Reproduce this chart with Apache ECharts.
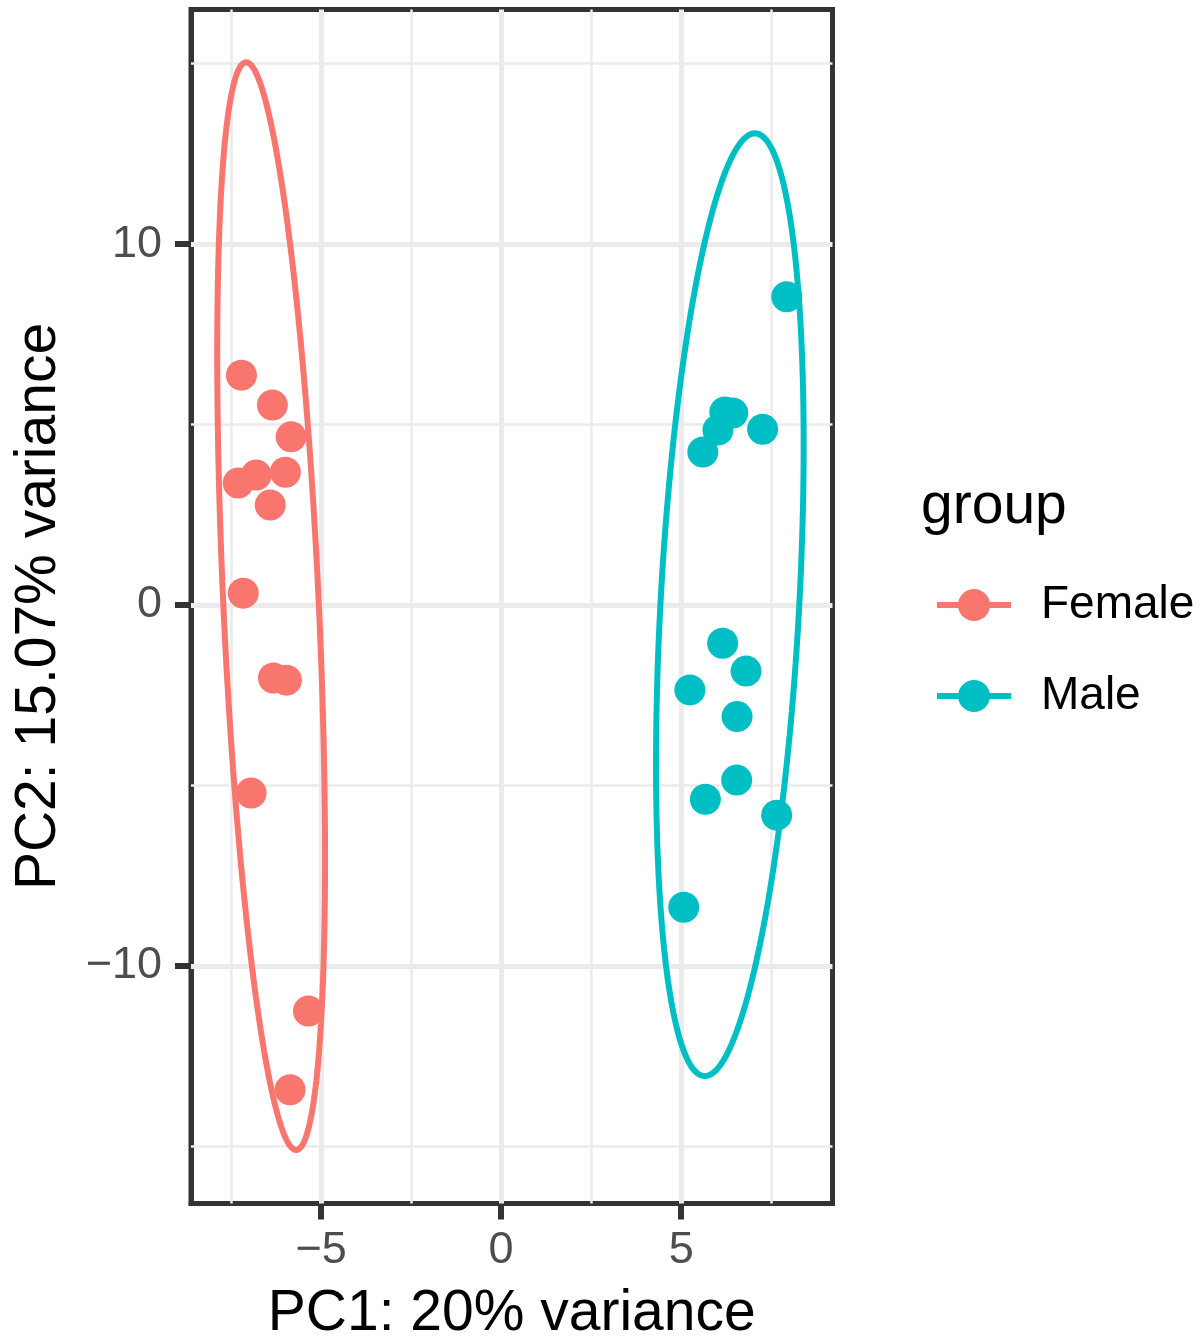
<!DOCTYPE html>
<html>
<head>
<meta charset="utf-8">
<script src="https://cdn.jsdelivr.net/npm/echarts@6/dist/echarts.min.js"></script>
<style>
  html, body { margin: 0; padding: 0; background: #fff; }
  #chart { width: 1204px; height: 1338px; }
</style>
</head>
<body>
<div id="chart"></div>
<script>
// PCA scores per group [PC1, PC2]
var femalePoints = [
  [-7.21, 6.37], [-6.35, 5.54], [-5.83, 4.66], [-7.30, 3.38], [-6.80, 3.60],
  [-5.99, 3.68], [-6.41, 2.77], [-7.16, 0.33], [-6.32, -2.02], [-5.96, -2.08],
  [-6.94, -5.21], [-5.35, -11.25], [-5.86, -13.43]
];
var malePoints = [
  [7.93, 8.54], [6.21, 5.35], [6.43, 5.32], [6.02, 4.85], [5.60, 4.24],
  [7.26, 4.87], [6.15, -1.06], [6.80, -1.83], [5.24, -2.35], [6.55, -3.09],
  [6.54, -4.85], [5.67, -5.38], [7.65, -5.82], [5.07, -8.37]
];
// ellipse: centre x, centre y, var x, var y, cov xy
var femaleEllipse = [-6.385, -0.03, 2.24, 227.1, -10.47];
var maleEllipse = [6.35, 0.01, 4.2, 170.6, 9.08];

var groups = ["Female", "Male"];
var groupColors = ["#F8766D", "#00BFC4"];
var xTicks = [-5, 0, 5];
var yTicks = [-10, 0, 10];
var xMinor = [-7.5, -2.5, 2.5, 7.5];
var yMinor = [-15, -5, 5, 15];
var xRange = [-8.61, 9.20];
var yRange = [-16.58, 16.50];

function ellipsePath(e) {
  var a = Math.sqrt(e[2]);
  var b = e[4] / a;
  var c = Math.sqrt(e[3] - e[4] * e[4] / e[2]);
  var pts = [];
  for (var i = 0; i <= 240; i++) {
    var t = i / 240 * 2 * Math.PI;
    pts.push([e[0] + a * Math.cos(t), e[1] + b * Math.cos(t) + c * Math.sin(t)]);
  }
  return pts;
}

function fmt(v) {
  return v < 0 ? "\u2212" + Math.abs(v) : String(v);
}

var gridLines = [];
xTicks.forEach(function (v) { gridLines.push({ xAxis: v, lineStyle: { width: 5 } }); });
yTicks.forEach(function (v) { gridLines.push({ yAxis: v, lineStyle: { width: 5 } }); });
xMinor.forEach(function (v) { gridLines.push({ xAxis: v, lineStyle: { width: 2.5 } }); });
yMinor.forEach(function (v) { gridLines.push({ yAxis: v, lineStyle: { width: 2.5 } }); });

var font = "Liberation Sans";
var myChart = echarts.init(document.getElementById("chart"));

myChart.setOption({
  animation: false,
  title: {
    text: "group",
    left: 916,
    top: 474,
    textStyle: { fontFamily: font, fontSize: 57, fontWeight: "normal", color: "#000" }
  },
  legend: {
    data: groups,
    orient: "vertical",
    left: 929,
    top: 577,
    itemWidth: 74,
    itemHeight: 40,
    itemGap: 45,
    lineStyle: { width: 6 },
    textStyle: { fontFamily: font, fontSize: 46, color: "#000", padding: [0, 0, 0, 25] }
  },
  grid: {
    left: 191,
    right: 371.5,
    top: 9.5,
    bottom: 134.5,
    outerBoundsMode: "none",
    show: true,
    borderColor: "#333333",
    borderWidth: 5
  },
  xAxis: {
    type: "value",
    min: xRange[0],
    max: xRange[1],
    name: "PC1: 20% variance",
    nameLocation: "middle",
    nameGap: 82,
    nameTextStyle: { fontFamily: font, fontSize: 57, color: "#000" },
    axisLine: { show: true, onZero: false, lineStyle: { color: "#333333", width: 5 } },
    splitLine: { show: false },
    axisTick: { show: true, length: 16, customValues: xTicks, lineStyle: { color: "#333333", width: 6 } },
    axisLabel: { customValues: xTicks, formatter: fmt, margin: 25, fontFamily: font, fontSize: 45, color: "#4D4D4D" }
  },
  yAxis: {
    type: "value",
    min: yRange[0],
    max: yRange[1],
    name: "PC2: 15.07% variance",
    nameLocation: "middle",
    nameGap: 123,
    nameTextStyle: { fontFamily: font, fontSize: 57, color: "#000" },
    axisLine: { show: true, onZero: false, lineStyle: { color: "#333333", width: 5 } },
    splitLine: { show: false },
    axisTick: { show: true, length: 16, customValues: yTicks, lineStyle: { color: "#333333", width: 6 } },
    axisLabel: { customValues: yTicks, formatter: fmt, margin: 29, fontFamily: font, fontSize: 45, color: "#4D4D4D" }
  },
  series: [
    {
      name: groups[0],
      type: "line",
      data: ellipsePath(femaleEllipse),
      showSymbol: false,
      symbol: "circle",
      z: 4,
      color: groupColors[0],
      lineStyle: { color: groupColors[0], width: 6 },
      itemStyle: { color: groupColors[0] },
      silent: true
    },
    {
      name: groups[1],
      type: "line",
      data: ellipsePath(maleEllipse),
      showSymbol: false,
      symbol: "circle",
      z: 4,
      color: groupColors[1],
      lineStyle: { color: groupColors[1], width: 6 },
      itemStyle: { color: groupColors[1] },
      silent: true
    },
    {
      name: groups[0],
      type: "scatter",
      data: femalePoints,
      symbolSize: 31,
      z: 3,
      itemStyle: { color: groupColors[0], opacity: 1 },
      markLine: {
        silent: true,
        symbol: "none",
        z: 1,
        label: { show: false },
        lineStyle: { color: "#EBEBEB", type: "solid" },
        emphasis: { disabled: true },
        data: gridLines
      }
    },
    {
      name: groups[1],
      type: "scatter",
      data: malePoints,
      symbolSize: 31,
      z: 3,
      itemStyle: { color: groupColors[1], opacity: 1 }
    }
  ]
});
</script>
</body>
</html>
